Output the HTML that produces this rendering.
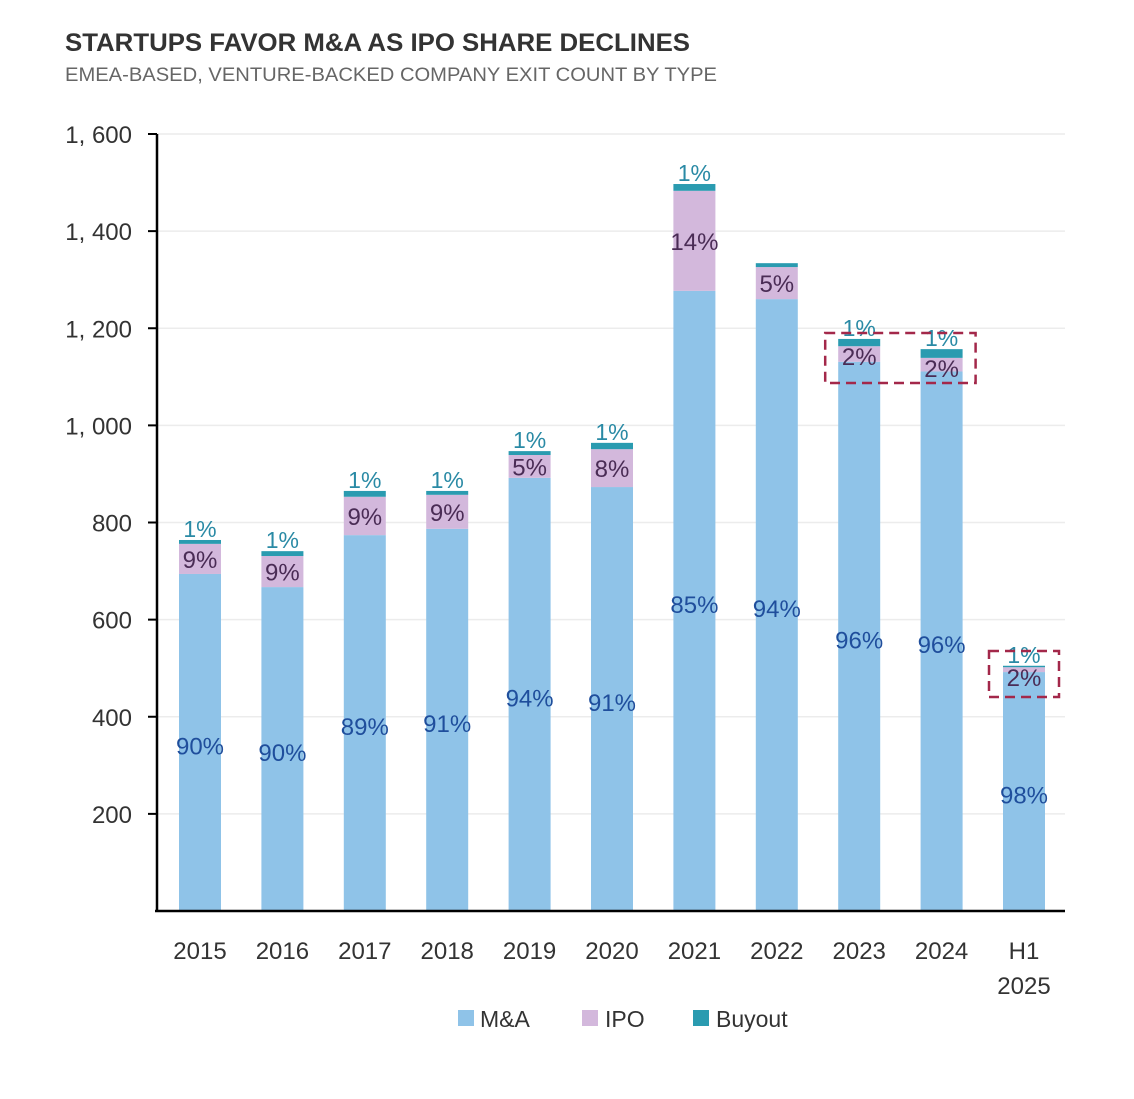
<!DOCTYPE html>
<html><head><meta charset="utf-8"><style>
body{margin:0;background:#fff;}
svg text{font-family:"Liberation Sans",sans-serif;}
</style></head><body>
<svg id="chart" width="1134" height="1094" xmlns="http://www.w3.org/2000/svg">
<text x="65" y="51" font-size="25" fill="#333" font-weight="bold" textLength="625" lengthAdjust="spacingAndGlyphs">STARTUPS FAVOR M&amp;A AS IPO SHARE DECLINES</text>
<text x="65" y="81" font-size="19" fill="#666" textLength="652" lengthAdjust="spacingAndGlyphs">EMEA-BASED, VENTURE-BACKED COMPANY EXIT COUNT BY TYPE</text>
<g id="plot"></g>
<g>
<rect x="458" y="1010" width="16" height="16" fill="#8fc3e8"/>
<text x="480" y="1027" font-size="23" fill="#333">M&amp;A</text>
<rect x="582" y="1010" width="16" height="16" fill="#d3b8dc"/>
<text x="605" y="1027" font-size="23" fill="#333">IPO</text>
<rect x="693" y="1010" width="16" height="16" fill="#2a9bb0"/>
<text x="716" y="1027" font-size="23" fill="#333">Buyout</text>
</g>
</svg>
<script>
const categories=["2015","2016","2017","2018","2019","2020","2021","2022","2023","2024","H1 2025"];
const maValues=[694,667,774,787,892,873,1277,1260,1131,1111,492];
const ipoValues=[62,64,79,70,47,78,206,66,32,28,10];
const buyoutValues=[8,10,12,8,8,13,14,8,15,18,3];
const maPct=["90%","90%","89%","91%","94%","91%","85%","94%","96%","96%","98%"];
const ipoPct=["9%","9%","9%","9%","5%","8%","14%","5%","2%","2%","2%"];
const buyoutPct=["1%","1%","1%","1%","1%","1%","1%","","1%","1%","1%"];
const yTicks=[200,400,600,800,1000,1200,1400,1600];

const NS="http://www.w3.org/2000/svg";
const g=document.getElementById('plot');
const x0=157,x1=1065,y0=911,yTop=134,yMax=1600;
const y=v=>y0-(v/yMax)*(y0-yTop);
const step=(1024-200)/10;
const xc=i=>200+i*step;
const bw=42;
function mk(tag,attrs,txt){const e=document.createElementNS(NS,tag);for(const k in attrs)e.setAttribute(k,attrs[k]);if(txt!==undefined)e.textContent=txt;g.appendChild(e);return e;}

yTicks.forEach(t=>{
 const gl=mk('line',{x1:x0,x2:x1,y1:y(t),y2:y(t),stroke:'#ececec','stroke-width':1.5});
 
 
 const tk=mk('line',{x1:148,x2:x0,y1:y(t),y2:y(t),stroke:'#000','stroke-width':2});
 
 
 const lb=mk('text',{x:132,y:y(t)+9,'font-size':24,fill:'#333','text-anchor':'end'},t.toLocaleString('en-US').replace(',',', '));
 
 
});

categories.forEach((c,i)=>{
 const cx=xc(i);
 const tMa=y(maValues[i]), tIpo=y(maValues[i]+ipoValues[i]), tBuy=y(maValues[i]+ipoValues[i]+buyoutValues[i]);
 const r1=mk('rect',{x:cx-bw/2,y:tMa,width:bw,height:y0-tMa,fill:'#8fc3e8'});
 
 
 const r2=mk('rect',{x:cx-bw/2,y:tIpo,width:bw,height:tMa-tIpo,fill:'#d3b8dc'});
 
 
 const r3=mk('rect',{x:cx-bw/2,y:tBuy,width:bw,height:tIpo-tBuy,fill:'#2a9bb0'});
 
 
 const l1=mk('text',{x:cx,y:(y0+tMa)/2+12,'font-size':24,fill:'#1f4e9c','text-anchor':'middle'},maPct[i]);
 
 
 const ipoY=Math.max((tMa+tIpo)/2,tIpo+10);
 const l2=mk('text',{x:cx,y:ipoY+9,'font-size':24,fill:'#4a2c55','text-anchor':'middle'},ipoPct[i]);
 
 
 if(buyoutPct[i]){
  const l3=mk('text',{x:cx,y:tBuy-3,'font-size':23,fill:'#2a8aa5','text-anchor':'middle'},buyoutPct[i]);
  
  
 }
 const parts=c.split(' ');
 parts.forEach((p,j)=>{
  const xl=mk('text',{x:cx,y:959+j*35,'font-size':24,fill:'#333','text-anchor':'middle'},p);
  
  
 });
});

const ax=mk('line',{x1:x0,x2:x0,y1:yTop,y2:y0+1,stroke:'#000','stroke-width':2.5});


const bx=mk('line',{x1:x0-2,x2:x1,y1:y0,y2:y0,stroke:'#000','stroke-width':2.5});



const h1=mk('rect',{x:xc(8)-34,y:333,width:xc(9)-xc(8)+68,height:50,fill:'none',stroke:'#a3284a','stroke-width':2.5,'stroke-dasharray':'10,6'});


const h2=mk('rect',{x:xc(10)-35,y:651,width:70,height:46,fill:'none',stroke:'#a3284a','stroke-width':2.5,'stroke-dasharray':'10,6'});


</script>
</body></html>
